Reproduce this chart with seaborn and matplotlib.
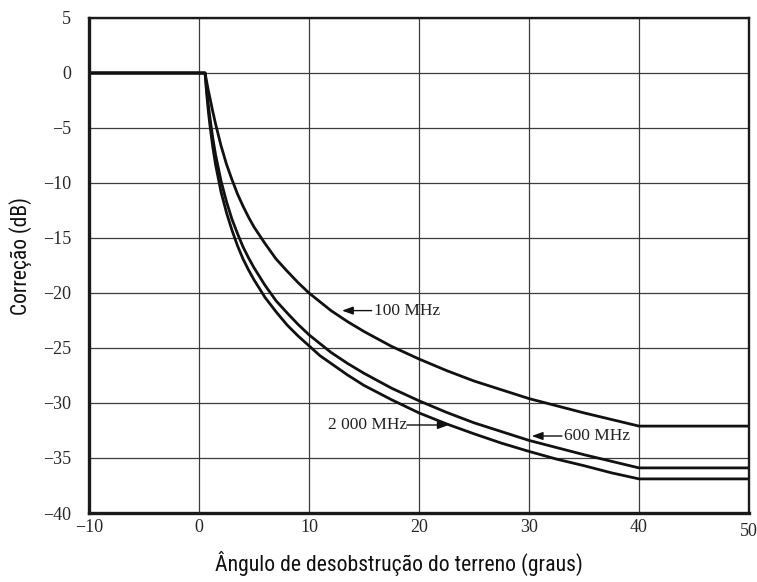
import matplotlib
matplotlib.use("Agg")
import matplotlib.pyplot as plt
from matplotlib.font_manager import findfont, FontProperties
from matplotlib.transforms import ScaledTranslation
import pandas as pd
import seaborn as sns

# Terrain clearance angle (degrees) and correction (dB) per frequency
theta = [-10, 0.55, 0.7, 0.85, 1, 1.25, 1.5, 2, 2.5, 3, 3.5, 4, 4.5, 5, 6, 7,
         8, 9, 10, 11, 12, 13.5, 15, 17.5, 20, 22.5, 25, 27.5, 30, 32.5, 35,
         37.5, 40, 50]
corr_100 = [0, 0, -0.8, -1.6, -2.3, -3.5, -4.6, -6.6, -8.3, -9.7, -11.0,
            -12.1, -13.1, -14.0, -15.5, -16.9, -18.0, -19.05, -20.0, -20.8,
            -21.6, -22.6, -23.5, -24.85, -26.0, -27.05, -28.0, -28.8, -29.6,
            -30.25, -30.9, -31.5, -32.1, -32.1]
corr_600 = [0, 0, -1.5, -2.9, -4.1, -5.9, -7.4, -9.8, -11.7, -13.3, -14.6,
            -15.8, -16.8, -17.7, -19.3, -20.7, -21.8, -22.85, -23.8, -24.6,
            -25.4, -26.4, -27.3, -28.65, -29.8, -30.85, -31.8, -32.6, -33.4,
            -34.05, -34.7, -35.3, -35.9, -35.9]
corr_2000 = [0, 0, -1.9, -3.5, -4.8, -6.7, -8.3, -10.8, -12.7, -14.3, -15.7,
             -16.9, -17.9, -18.8, -20.4, -21.7, -22.9, -23.9, -24.8, -25.7,
             -26.4, -27.45, -28.4, -29.7, -30.9, -31.9, -32.8, -33.65, -34.4,
             -35.1, -35.7, -36.35, -36.9, -36.9]
freq_labels = ["100 MHz", "600 MHz", "2 000 MHz"]

x_ticks = [-10, 0, 10, 20, 30, 40, 50]
y_ticks = [5, 0, -5, -10, -15, -20, -25, -30, -35, -40]

df = pd.concat([
    pd.DataFrame({"theta": theta, "corr": c, "freq": lab})
    for c, lab in zip([corr_100, corr_600, corr_2000], freq_labels)
])

sns.set_theme(style="white")


def pick(names):
    for n in names:
        try:
            findfont(FontProperties(family=n), fallback_to_default=False)
            return n
        except Exception:
            continue
    return "DejaVu Sans"


serif = pick(["Liberation Serif", "DejaVu Serif"])
narrow = pick(["Roboto Condensed", "Liberation Sans Narrow",
               "Liberation Sans", "DejaVu Sans"])
plt.rcParams["font.family"] = [serif, "DejaVu Serif"]

fig = plt.figure(figsize=(7.57, 5.82), dpi=100)
ax = fig.add_axes([89 / 757, 1 - 513 / 582, (749 - 89) / 757, (513 - 18) / 582])

sns.lineplot(data=df, x="theta", y="corr", hue="freq",
             palette=["#111111"] * 3, legend=False, linewidth=2.0,
             estimator=None, sort=False, ax=ax)

ax.set_xlim(-10, 50)
ax.set_ylim(-40, 5)
ax.set_xticks(x_ticks)
ax.set_yticks(y_ticks)
ax.grid(True, color="#3c3c3c", linewidth=0.9)
ax.set_axisbelow(True)
ax.tick_params(axis="both", length=0, labelsize=13, colors="#262626")
ax.tick_params(axis="y", pad=13)
ax.tick_params(axis="x", pad=4)

for side, lw in [("left", 2.4), ("bottom", 2.4), ("top", 1.7), ("right", 1.7)]:
    ax.spines[side].set_visible(True)
    ax.spines[side].set_linewidth(lw)
    ax.spines[side].set_color("#1a1a1a")

fig.canvas.draw()
last = ax.get_xticklabels()[-1]
last.set_transform(last.get_transform()
                   + ScaledTranslation(0, -3 / 72, fig.dpi_scale_trans))

ax.set_xlabel("Ângulo de desobstrução do terreno (graus)",
              family=[narrow, "DejaVu Sans"], fontsize=15.7, color="#111111")
ax.set_ylabel("Correção (dB)", family=[narrow, "DejaVu Sans"],
              fontsize=15.5, color="#111111")
ax.xaxis.set_label_coords(0.47, -0.077)
ax.yaxis.set_label_coords(-0.086, 0.52)

arrow = dict(arrowstyle="-|>,head_length=0.55,head_width=0.2",
             color="#111111", lw=1.0, shrinkA=0, shrinkB=0)
txt = dict(fontsize=12.5, color="#222222", va="center")

# 100 MHz label, arrow pointing left to its curve
ax.annotate("", xy=(13.0, -21.6), xytext=(15.7, -21.6), arrowprops=arrow)
ax.text(15.9, -21.6, freq_labels[0], ha="left", **txt)

# 600 MHz label, arrow pointing left to its curve
ax.annotate("", xy=(30.25, -33.0), xytext=(33.0, -33.0), arrowprops=arrow)
ax.text(33.2, -33.0, freq_labels[1], ha="left", **txt)

# 2 000 MHz label, arrow pointing right to its curve
ax.annotate("", xy=(22.7, -32.0), xytext=(18.9, -32.0), arrowprops=arrow)
ax.text(18.9, -32.0, freq_labels[2], ha="right", **txt)

fig.savefig("out.png", dpi=100)
